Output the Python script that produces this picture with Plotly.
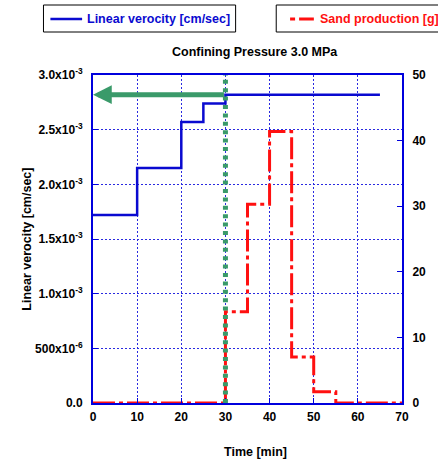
import plotly.graph_objects as go

# ---- data ----
vel_time = [0, 10, 20, 25, 30, 65]
vel_values = [1.72e-3, 2.15e-3, 2.57e-3, 2.74e-3, 2.82e-3, 2.82e-3]

sand_time = [0, 30, 35, 40, 45, 50, 55, 70]
sand_values = [0, 13.9, 30.3, 41.4, 7.0, 1.7, 0, 0]

x_ticks = [0, 10, 20, 30, 40, 50, 60, 70]
y_ticks = [0, 0.5e-3, 1.0e-3, 1.5e-3, 2.0e-3, 2.5e-3, 3.0e-3]
y_ticktext = ["0.0", "500x10<sup>-6</sup>", "1.0x10<sup>-3</sup>", "1.5x10<sup>-3</sup>",
              "2.0x10<sup>-3</sup>", "2.5x10<sup>-3</sup>", "3.0x10<sup>-3</sup>"]
y2_ticks = [0, 10, 20, 30, 40, 50]

marker_time = 30
arrow_level = 2.82e-3

title_text = "Confining Pressure 3.0 MPa"
x_title = "Time [min]"
y_title = "Linear verocity [cm/sec]"
legend_vel = "Linear verocity [cm/sec]"
legend_sand = "Sand production [g]"

# ---- layout geometry ----
W, H = 438, 459
L, R, T, B = 93, 33, 75, 56
PW, PH = W - L - R, H - T - B

def px(xp):
    return (xp - L) / PW

def py(yp):
    return (H - B - yp) / PH

BLUE = "#0000dd"
LINEBLUE = "#0a0ad0"
RED = "#ff1010"
GREEN = "#3a9a6a"
FONT = "Arial, Liberation Sans, sans-serif"

fig = go.Figure()
fig.add_trace(go.Scatter(x=vel_time, y=vel_values, mode="lines", line_shape="hv",
                         line=dict(color=LINEBLUE, width=2.5), showlegend=False))
fig.add_trace(go.Scatter(x=sand_time, y=sand_values, mode="lines", line_shape="hv", yaxis="y2",
                         line=dict(color=RED, width=3, dash="22px,4px,4px,4px"), showlegend=False))

shapes = [
    dict(type="line", xref="x", yref="y", x0=marker_time, x1=marker_time, y0=0, y1=3.0e-3,
         line=dict(color=GREEN, width=5, dash="4px,4.4px")),
    # legend boxes
    dict(type="rect", xref="paper", yref="paper", x0=px(43), x1=px(237), y0=py(32), y1=py(5),
         line=dict(color="black", width=1)),
    dict(type="rect", xref="paper", yref="paper", x0=px(278), x1=px(470), y0=py(32), y1=py(5),
         line=dict(color="black", width=1)),
    dict(type="line", xref="paper", yref="paper", x0=px(50), x1=px(82), y0=py(19), y1=py(19),
         line=dict(color=LINEBLUE, width=2.5)),
    dict(type="line", xref="paper", yref="paper", x0=px(292), x1=px(316), y0=py(19), y1=py(19),
         line=dict(color=RED, width=3, dash="5px,4px,16px,4px")),
]

annotations = [
    dict(x=0, y=arrow_level, ax=marker_time, ay=arrow_level, xref="x", yref="y", axref="x", ayref="y",
         showarrow=True, arrowhead=2, arrowsize=0.75, arrowwidth=5, arrowcolor=GREEN, text=""),
    dict(text="<b>" + title_text + "</b>", xref="paper", yref="paper", x=px(257), y=py(52),
         xanchor="center", yanchor="middle",
         showarrow=False, font=dict(size=12.5, color="black", family=FONT)),
    dict(text="<b>" + x_title + "</b>", xref="paper", yref="paper", x=px(257), y=py(452),
         xanchor="center", yanchor="middle",
         showarrow=False, font=dict(size=12.5, color="black", family=FONT)),
    dict(text="<b>" + y_title + "</b>", xref="paper", yref="paper", x=px(26), y=py(239),
         xanchor="center", yanchor="middle",
         showarrow=False, textangle=-90, font=dict(size=12.5, color="black", family=FONT)),
    dict(text="<b>" + legend_vel + "</b>", xref="paper", yref="paper", x=px(85), y=py(19),
         xanchor="left", yanchor="middle", showarrow=False, font=dict(size=12.5, color=LINEBLUE, family=FONT)),
    dict(text="<b>" + legend_sand + "</b>", xref="paper", yref="paper", x=px(320), y=py(19),
         xanchor="left", yanchor="middle", showarrow=False, font=dict(size=12.5, color=RED, family=FONT)),
]

fig.update_layout(
    width=W, height=H,
    margin=dict(l=L, r=R, t=T, b=B, pad=0),
    paper_bgcolor="white", plot_bgcolor="white",
    font=dict(family=FONT, size=12, color="black"),
    shapes=shapes, annotations=annotations,
    xaxis=dict(range=[0, 70], tickvals=x_ticks, ticktext=["<b>%d</b>" % v for v in x_ticks],
               showline=True, linecolor=BLUE, linewidth=2, mirror=True,
               ticks="inside", ticklen=5, tickcolor=BLUE, tickwidth=1,
               showgrid=True, gridcolor="#2a2ae0", griddash="2px,2px", gridwidth=1,
               zeroline=False, ticklabelstandoff=2),
    yaxis=dict(range=[0, 3.0e-3], tickvals=y_ticks, ticktext=["<b>" + t + "</b>" for t in y_ticktext],
               showline=True, linecolor=BLUE, linewidth=2,
               ticks="inside", ticklen=5, tickcolor=BLUE, tickwidth=1,
               showgrid=True, gridcolor="#2a2ae0", griddash="2px,2px", gridwidth=1,
               zeroline=False, ticklabelstandoff=6),
    yaxis2=dict(range=[0, 50], tickvals=y2_ticks, ticktext=["<b>%d</b>" % v for v in y2_ticks],
                overlaying="y", side="right", showline=True, linecolor=BLUE, linewidth=2,
                ticks="inside", ticklen=5, tickcolor=BLUE, tickwidth=1,
                showgrid=False, zeroline=False, ticklabelstandoff=6),
)

fig.write_html("out.html")
